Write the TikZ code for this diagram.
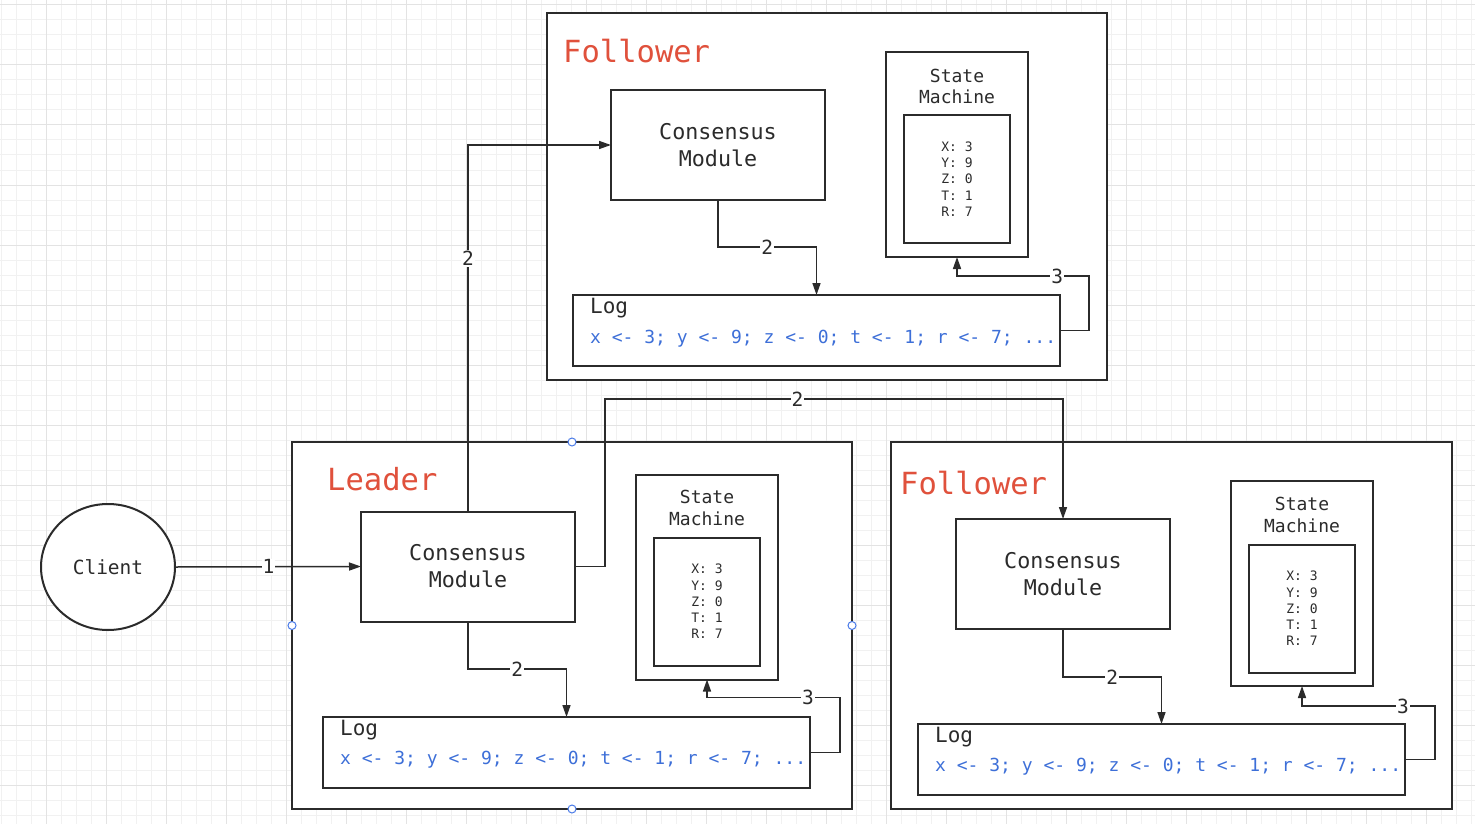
\documentclass[tikz,border=0pt]{standalone}
\usepackage{fontspec}
\setmainfont{DejaVu Sans Mono}
\usetikzlibrary{arrows.meta,calc,shapes.geometric}
\definecolor{ink}{HTML}{2B2B2B}
\definecolor{titlered}{HTML}{E0513C}
\definecolor{logblue}{HTML}{3D6FD8}
\definecolor{gridminor}{HTML}{F1F1F1}
\definecolor{gridmajor}{HTML}{E3E3E3}
\definecolor{handle}{HTML}{4A7BE8}
\tikzset{
  box/.style={draw=ink, line width=2pt, fill=white, rectangle, inner sep=0pt, outer sep=0pt},
  container/.style={box, minimum width=560pt, minimum height=367pt},
  cmbox/.style={box, minimum width=214pt, minimum height=110pt, align=center, text=ink,
    font=\fontsize{21.7}{27}\selectfont},
  smouter/.style={box, minimum width=142pt, minimum height=205pt},
  sminner/.style={box, minimum width=106pt, minimum height=128pt, align=left, text=ink,
    font=\fontsize{13}{16.3}\selectfont},
  smtitle/.style={align=center, text=ink, inner sep=0pt, font=\fontsize{18}{21.5}\selectfont},
  logbox/.style={box, minimum width=487pt, minimum height=71pt},
  logtitle/.style={anchor=west, text=ink, inner sep=0pt, font=\fontsize{21}{24}\selectfont},
  logtext/.style={anchor=west, text=logblue, inner sep=0pt, font=\fontsize{18}{21}\selectfont},
  roletitle/.style={anchor=west, text=titlered, inner sep=0pt, font=\fontsize{30.5}{34}\selectfont},
  arr/.style={draw=ink, line width=1.5pt, -{Triangle[length=12pt,width=8pt]}},
  lbl/.style={fill=white, text=ink, inner sep=1pt, font=\fontsize{19.5}{22}\selectfont},
  hdl/.style={circle, draw=handle, fill=white, line width=1pt, minimum size=8pt, inner sep=0pt},
}
\begin{document}
\begin{tikzpicture}[x=1pt,y=-1pt]
\useasboundingbox (0,0) rectangle (1475,824);
\fill[white] (0,0) rectangle (1475,824);
% grid
\foreach \gx in {1,16,...,1475} {\draw[gridminor, line width=1pt] (\gx,0) -- (\gx,824);}
\foreach \gy in {5,20,...,824} {\draw[gridminor, line width=1pt] (0,\gy) -- (1475,\gy);}
\foreach \gx in {46,106,...,1475} {\draw[gridmajor, line width=1pt] (\gx,0) -- (\gx,824);}
\foreach \gy in {5,65,...,824} {\draw[gridmajor, line width=1pt] (0,\gy) -- (1475,\gy);}

% containers
\node[container] (fT) at (827,196.5) {};
\node[container] (ld) at (572,625.5) {};
\node[container, minimum width=561pt] (fB) at (1171.5,625.5) {};

\node[roletitle] (tT) at (563,51) {Follower};
\node[roletitle] (tL) at (327,479) {Leader};
\node[roletitle] (tB) at (900,483) {Follower};

% client
\node[draw=ink, line width=2pt, fill=white, ellipse, minimum width=134pt, minimum height=126pt,
  inner sep=0pt, text=ink, font=\fontsize{19.5}{22}\selectfont] (client) at (108,567) {Client};

% top follower
\node[cmbox] (cmT) at (718,145) {Consensus\\Module};
\node[smouter] (smT) at (957,154.5) {};
\node[smtitle] (smtT) at (957,86.5) {State\\Machine};
\node[sminner] (svT) at (957,179) {X: 3\\Y: 9\\Z: 0\\T: 1\\R: 7};
\node[logbox] (logT) at (816.5,330.5) {};
\node[logtitle] (lgtT) at (590,308) {Log};
\node[logtext] (lgxT) at (590,339) {x <- 3; y <- 9; z <- 0; t <- 1; r <- 7; ...};

% leader
\node[cmbox] (cmL) at (468,566.5) {Consensus\\Module};
\node[smouter] (smL) at (707,577) {};
\node[smtitle] (smtL) at (707,508) {State\\Machine};
\node[sminner] (svL) at (707,601.5) {X: 3\\Y: 9\\Z: 0\\T: 1\\R: 7};
\node[logbox] (logL) at (566.5,752.5) {};
\node[logtitle] (lgtL) at (340,730) {Log};
\node[logtext] (lgxL) at (340,760) {x <- 3; y <- 9; z <- 0; t <- 1; r <- 7; ...};

% bottom follower
\node[cmbox] (cmB) at (1063,574) {Consensus\\Module};
\node[smouter] (smB) at (1302,583.5) {};
\node[smtitle] (smtB) at (1302,515) {State\\Machine};
\node[sminner] (svB) at (1302,608.5) {X: 3\\Y: 9\\Z: 0\\T: 1\\R: 7};
\node[logbox] (logB) at (1161.5,759.5) {};
\node[logtitle] (lgtB) at (935,737) {Log};
\node[logtext] (lgxB) at (935,767) {x <- 3; y <- 9; z <- 0; t <- 1; r <- 7; ...};

% connectors inside nodes
\draw[arr] (cmT.south) -- ++(0,47) -| node[lbl, pos=0.25] {2} (logT.north);
\draw[arr] (logT.east) -- ++(29,0) |- node[lbl, pos=0.62] {3} ($(smT.south)+(0,19)$) -- (smT.south);

\draw[arr] (cmL.south) -- ++(0,47.5) -| node[lbl, pos=0.25] {2} (logL.north);
\draw[arr] (logL.east) -- ++(30,0) |- node[lbl, pos=0.62] {3} ($(smL.south)+(0,18)$) -- (smL.south);

\draw[arr] (cmB.south) -- ++(0,48) -| node[lbl, pos=0.25] {2} (logB.north);
\draw[arr] (logB.east) -- ++(30,0) |- node[lbl, pos=0.62] {3} ($(smB.south)+(0,20)$) -- (smB.south);

% client to leader
\draw[arr] (client.east) -- node[lbl] {1} (cmL.west);

% leader to followers
\draw[arr] (cmL.north) |- node[lbl, pos=0.345] {2} (cmT.west);
\draw[arr] (cmL.east) -- ++(30,0) |- node[lbl, pos=0.71] {2} ($(cmB.north)+(0,-120)$) -- (cmB.north);

% selection handles on leader container
\node[hdl] (h1) at (ld.north) {};
\node[hdl] (h2) at (ld.south) {};
\node[hdl] (h3) at (ld.west) {};
\node[hdl] (h4) at (ld.east) {};
\end{tikzpicture}
\end{document}
